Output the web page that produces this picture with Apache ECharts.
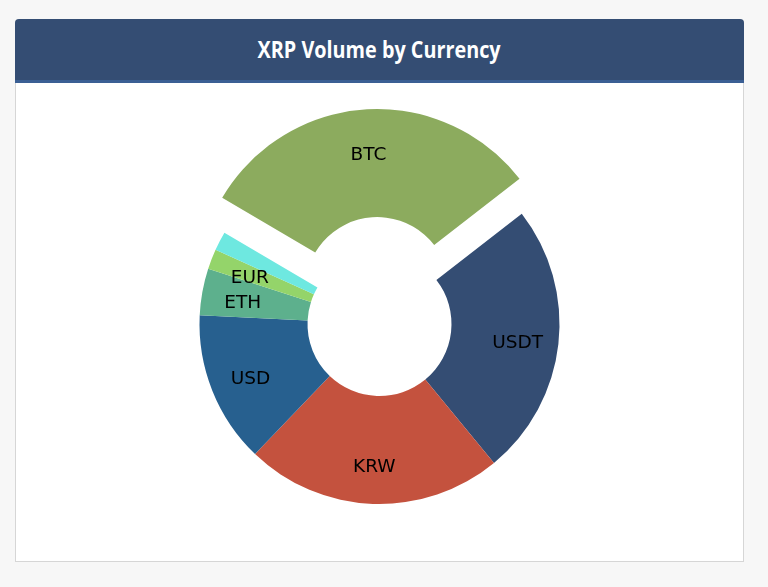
<!DOCTYPE html>
<html>
<head>
<meta charset="utf-8">
<script src="https://cdn.jsdelivr.net/npm/echarts@6/dist/echarts.min.js"></script>
<style>
  html, body { margin: 0; padding: 0; background: #f7f7f7; }
  .panel {
    position: absolute; left: 15px; top: 19px; width: 727px; height: 542px;
    background: #fff; border: 1px solid #d6d6d6; border-top: none;
    border-radius: 4px 4px 0 0;
  }
  .panel_head {
    height: 61px; background: #344d73; border-bottom: 3px solid #3b5f94;
    border-radius: 4px 4px 0 0; margin: 0 -1px;
    text-align: center; color: #fff;
  }
  .panel_head span {
    display: inline-block; line-height: 62px;
    font-family: "Open Sans", sans-serif; font-weight: 700; font-size: 22.5px;
    transform: scaleX(0.88); transform-origin: center;
  }
  #chart { width: 727px; height: 478px; }
</style>
</head>
<body>
<div class="panel">
  <div class="panel_head"><span>XRP Volume by Currency</span></div>
  <div id="chart"></div>
</div>
<script>
(function() {
  // volume share per currency
  var currencies = ['BTC', 'USDT', 'KRW', 'USD', 'ETH', 'EUR', 'Other'];
  var volumes = [31.0, 24.5, 23.1, 13.6, 4.2, 1.8, 1.7];
  var colors = ['#8cab5e', '#344d73', '#c4523e', '#27608f', '#5db08d', '#94d46a', '#6ee8e0'];
  var hideLabel = ['Other'];

  var chart = echarts.init(document.getElementById('chart'));

  var slices = currencies.map(function(name, i) {
    return {
      name: name,
      value: volumes[i],
      selected: i === 0,
      itemStyle: { color: colors[i] }
    };
  });

  // same slices, transparent, only used to put the labels a bit further out
  var labelSlices = currencies.map(function(name, i) {
    return {
      name: name,
      value: volumes[i],
      selected: i === 0,
      label: { show: hideLabel.indexOf(name) < 0 }
    };
  });

  var labelStyle = {
    position: 'inside',
    color: '#000',
    fontFamily: 'DejaVu Sans',
    fontSize: 18.5,
    offset: [0, 4],
    formatter: '{b}'
  };

  var option = {
    animation: false,
    series: [
      {
        type: 'pie',
        center: ['50%', 241],
        radius: [72, 180],
        startAngle: 149.5,
        clockwise: true,
        selectedMode: 'single',
        selectedOffset: 35,
        avoidLabelOverlap: false,
        silent: true,
        label: { show: false },
        labelLine: { show: false },
        emphasis: { disabled: true },
        data: slices
      },
      {
        type: 'pie',
        center: ['50%', 241],
        radius: [72, 200],
        startAngle: 149.5,
        clockwise: true,
        selectedMode: 'single',
        selectedOffset: 35,
        avoidLabelOverlap: false,
        silent: true,
        itemStyle: { color: 'rgba(0,0,0,0)' },
        label: labelStyle,
        select: {
          itemStyle: { color: 'rgba(0,0,0,0)' },
          label: { offset: [0, 5] }
        },
        labelLine: { show: false },
        emphasis: { disabled: true },
        data: labelSlices
      }
    ]
  };

  chart.setOption(option);
})();
</script>
</body>
</html>
